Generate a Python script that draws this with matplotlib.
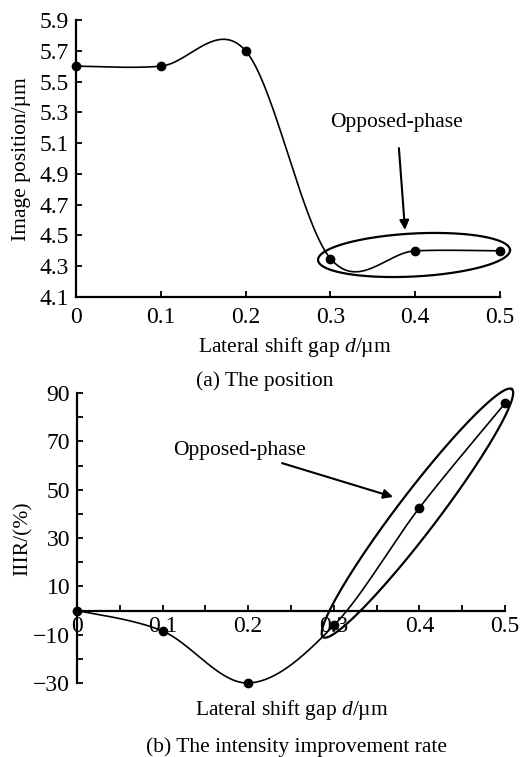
import matplotlib
matplotlib.use("Agg")
import matplotlib.pyplot as plt
import numpy as np

plt.rcParams['font.family'] = ['Liberation Serif', 'DejaVu Serif']
plt.rcParams['mathtext.fontset'] = 'custom'
plt.rcParams['mathtext.rm'] = 'Liberation Serif'
plt.rcParams['mathtext.it'] = 'Liberation Serif:italic'

# data
gap = [0.0, 0.1, 0.2, 0.3, 0.4, 0.5]
position = [5.60, 5.60, 5.70, 4.35, 4.40, 4.40]
iir = [0.0, -8.5, -30.0, -6.2, 42.5, 85.7]

pos_ticks = [4.1, 4.3, 4.5, 4.7, 4.9, 5.1, 5.3, 5.5, 5.7, 5.9]
iir_ticks = [-30, -10, 10, 30, 50, 70, 90]
gap_ticks = [0, 0.1, 0.2, 0.3, 0.4, 0.5]
gap_labels = ['0', '0.1', '0.2', '0.3', '0.4', '0.5']

W, H = 527, 757


def smooth(x, y, n=60):
    # excel-like smoothed line (catmull-rom as cubic bezier)
    p = np.column_stack([x, y]).astype(float)
    out = []
    for i in range(len(p) - 1):
        p0 = p[i - 1] if i > 0 else p[i]
        p1, p2 = p[i], p[i + 1]
        p3 = p[i + 2] if i + 2 < len(p) else p[i + 1]
        c1 = p1 + (p2 - p0) / 6
        c2 = p2 - (p3 - p1) / 6
        t = np.linspace(0, 1, n)[:, None]
        seg = (1 - t) ** 3 * p1 + 3 * (1 - t) ** 2 * t * c1 + 3 * (1 - t) * t ** 2 * c2 + t ** 3 * p2
        out.append(seg)
    s = np.vstack(out)
    return s[:, 0], s[:, 1]


def ring(ax, a, b, minor_px):
    # ellipse between two data points, drawn in pixel space
    tr = ax.transData
    da, db = tr.transform(a), tr.transform(b)
    c = (da + db) / 2
    major = np.hypot(*(db - da)) / 2
    ang = np.arctan2(db[1] - da[1], db[0] - da[0])
    t = np.linspace(0, 2 * np.pi, 300)
    ex = major * np.cos(t)
    ey = minor_px / 2 * np.sin(t)
    px = c[0] + ex * np.cos(ang) - ey * np.sin(ang)
    py = c[1] + ex * np.sin(ang) + ey * np.cos(ang)
    d = tr.inverted().transform(np.column_stack([px, py]))
    ax.plot(d[:, 0], d[:, 1], color='black', lw=1.6, clip_on=False)


fig = plt.figure(figsize=(W / 100, H / 100), dpi=100)

# ---------------- (a) position
ax1 = fig.add_axes([76 / W, 1 - 297 / H, 424 / W, 277 / H])
ax1.set_xlim(0, 0.5)
ax1.set_ylim(4.1, 5.9)
sx, sy = smooth(gap, position)
ax1.plot(sx, sy, color='black', lw=1.2, clip_on=False)
ax1.plot(gap, position, 'o', color='black', ms=6, clip_on=False, zorder=5)
ax1.set_yticks(pos_ticks)
ax1.set_yticklabels(['%.1f' % v for v in pos_ticks])
ax1.set_xticks(gap_ticks)
ax1.set_xticklabels(gap_labels)
ax1.tick_params(direction='in', length=4, width=1.3, labelsize=17, pad=5)
ax1.tick_params(axis='x', pad=7)
for s in ['top', 'right']:
    ax1.spines[s].set_visible(False)
for s in ['left', 'bottom']:
    ax1.spines[s].set_linewidth(1.6)

ring(ax1, (0.2854, 4.340), (0.5118, 4.406), 43)
ax1.annotate('Opposed-phase', xy=(0.388, 4.536), xytext=(0.3785, 5.237),
             ha='center', va='center', fontsize=15.5,
             arrowprops=dict(arrowstyle='-|>', color='black', lw=1.5,
                             mutation_scale=14, shrinkA=10, shrinkB=0))

fig.text(295 / W, 1 - 347 / H, 'Lateral shift gap $d$/\u00b5m', ha='center', va='center', fontsize=15.5)
fig.text(265 / W, 1 - 381 / H, '(a) The position', ha='center', va='center', fontsize=15.5)
fig.text(22 / W, 1 - 159 / H, 'Image position/\u00b5m', ha='center', va='center', rotation=90, fontsize=15.5)

# ---------------- (b) intensity improvement rate
ax2 = fig.add_axes([77 / W, 1 - 683 / H, 428 / W, 290 / H])
ax2.set_xlim(0, 0.5)
ax2.set_ylim(-30, 90)
sx, sy = smooth(gap, iir)
ax2.plot(sx, sy, color='black', lw=1.2, clip_on=False)
ax2.plot(gap, iir, 'o', color='black', ms=6, clip_on=False, zorder=5)
ax2.spines['bottom'].set_position(('data', 0))
ax2.set_yticks(iir_ticks)
ax2.set_yticks(np.arange(-20, 90, 20), minor=True)
ax2.set_xticks(gap_ticks)
ax2.set_xticklabels(gap_labels)
ax2.set_xticks(np.arange(0.05, 0.5, 0.1), minor=True)
ax2.tick_params(which='both', direction='in', length=4, width=1.3, labelsize=17, pad=5)
ax2.tick_params(axis='x', pad=4)
for s in ['top', 'right']:
    ax2.spines[s].set_visible(False)
for s in ['left', 'bottom']:
    ax2.spines[s].set_linewidth(1.6)

ring(ax2, (0.2874, -11.0), (0.508, 91.6), 40)
ax2.annotate('Opposed-phase', xy=(0.3692, 47.0), xytext=(0.1893, 66.4),
             ha='center', va='center', fontsize=15.5,
             arrowprops=dict(arrowstyle='-|>', color='black', lw=1.5,
                             mutation_scale=14, shrinkA=2, shrinkB=0))

fig.text(292 / W, 1 - 710 / H, 'Lateral shift gap $d$/\u00b5m', ha='center', va='center', fontsize=15.5)
fig.text(296 / W, 1 - 747 / H, '(b) The intensity improvement rate', ha='center', va='center', fontsize=15.5)
fig.text(23 / W, 1 - 539 / H, 'IIIR/(%)', ha='center', va='center', rotation=90, fontsize=15.5)

fig.savefig('out.png', dpi=100)
